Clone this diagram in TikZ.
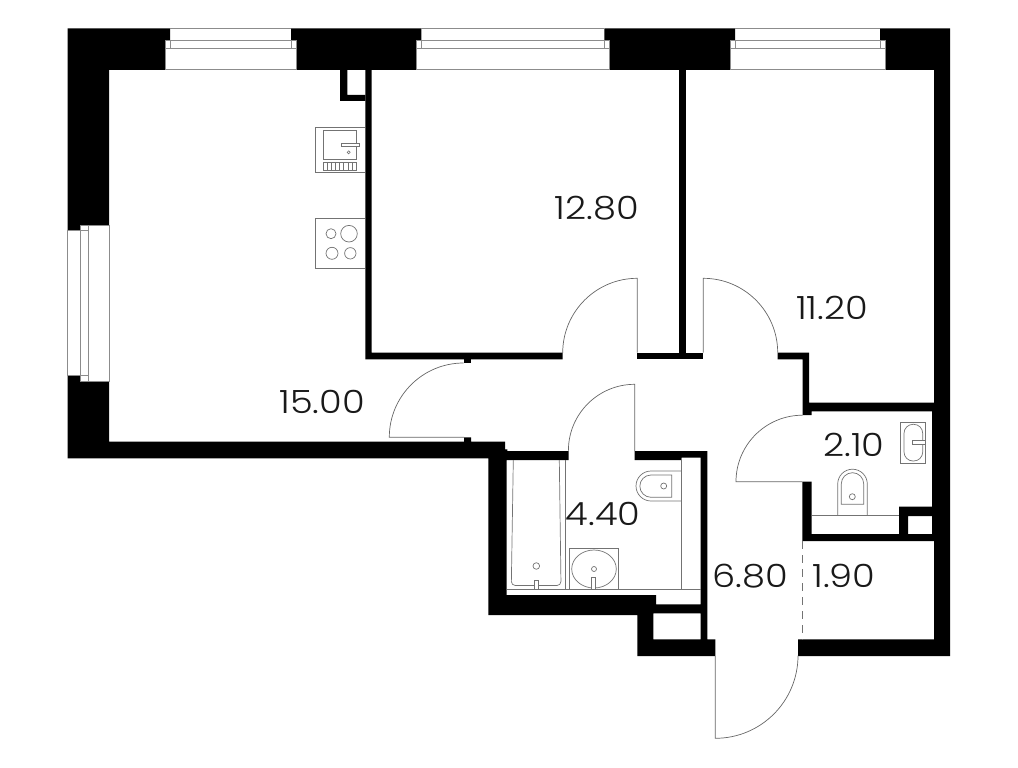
\documentclass[tikz,border=0pt]{standalone}
\usepackage{fontspec}
\setmainfont{Poppins Light}[FakeStretch=1.15]
\tikzset{
    wallfill/.style={fill=black, draw=none},
    fixture/.style={draw=black!55, line width=0.7pt},
    winline/.style={draw=black!45, line width=1pt},
    doorline/.style={draw=black!60, line width=0.7pt},
    arealabel/.style={font=\fontsize{32}{32}\selectfont, text=black!90, inner sep=0pt},
}
\begin{document}
\begin{tikzpicture}[x=1pt, y=-1pt]
    \useasboundingbox (0,0) rectangle (1018,768);

    % outer walls
    \fill[wallfill] (67.5,28.5) -- (170,28.5) -- (170,41) -- (165,41) -- (165,70) -- (109,70) -- (109,225) -- (80.7,225) -- (80.7,230) -- (67.5,230) -- cycle;
    \fill[wallfill] (291,28.5) -- (421.4,28.5) -- (421.4,41) -- (416,41) -- (416,70) -- (296,70) -- (296,41) -- (291,41) -- cycle;
    \fill[wallfill] (604.3,28.5) -- (735,28.5) -- (735,41) -- (730,41) -- (730,70) -- (609.3,70) -- (609.3,41) -- (604.3,41) -- cycle;
    \fill[wallfill] (880,28.5) -- (950,28.5) -- (950,656) -- (798,656) -- (798,639.3) -- (934,639.3) -- (934,70) -- (885,70) -- (885,41) -- (880,41) -- cycle;
    \fill[wallfill] (931.7,402.7) rectangle (934,534);
    \fill[wallfill, even odd rule] (67.5,375.7) -- (80.7,375.7) -- (80.7,381) -- (109,381) -- (109,441.7) -- (464,441.7) -- (464,437.3) -- (471,437.3) -- (471,441.7) -- (505,441.7) -- (505,449.3) -- (507.3,449.3) -- (507.3,451) -- (568.7,451) -- (568.7,460) -- (506.7,460) -- (506.7,595) -- (656,595) -- (656,604.3) -- (700.7,604.3) -- (700.7,457.7) -- (681.7,457.7) -- (681.7,460) -- (634.7,460) -- (634.7,451) -- (707.3,451) -- (707.3,639.3) -- (715.3,639.3) -- (715.3,656) -- (637.3,656) -- (637.3,615) -- (488.3,615) -- (488.3,458.3) -- (67.5,458.3) -- cycle
        (653.3,613.3) rectangle (700.7,639.3);

    % inner walls
    \fill[wallfill] (365.3,70) -- (371.7,70) -- (371.7,352.7) -- (562.7,352.7) -- (562.7,359.3) -- (365.3,359.3) -- cycle;
    \fill[wallfill] (340,70) -- (347.3,70) -- (347.3,95) -- (365.3,95) -- (365.3,101) -- (340,101) -- cycle;
    \fill[wallfill] (464,359) rectangle (471,363.3);
    \fill[wallfill] (637.3,352.7) rectangle (703.3,359.3);
    \fill[wallfill] (679.3,70) rectangle (685.7,352.7);
    \fill[wallfill] (777.7,352.7) -- (809,352.7) -- (809,402.7) -- (934,402.7) -- (934,411.3) -- (811.7,411.3) -- (811.7,415) -- (802.7,415) -- (802.7,359.3) -- (777.7,359.3) -- cycle;
    \fill[wallfill] (802.3,481.7) -- (811.7,481.7) -- (811.7,534) -- (899,534) -- (899,506.7) -- (934,506.7) -- (934,516) -- (908,516) -- (908,534) -- (934,534) -- (934,541) -- (802.3,541) -- cycle;

    % windows
    \foreach \xa/\xb/\xc/\xd in {165/170/291/296, 416/421.4/604.3/609.3, 730/735/880/885} {
        \draw[winline] (\xb,28.5) -- (\xc,28.5);
        \draw[winline] (\xa,41) rectangle (\xd,49);
        \draw[winline] (\xb,41) -- (\xb,49);
        \draw[winline] (\xc,41) -- (\xc,49);
        \draw[winline] (\xa,49) -- (\xa,70) -- (\xd,70) -- (\xd,49);
    }
    \draw[winline] (80.7,230) -- (67.5,230) -- (67.5,375.7) -- (80.7,375.7);
    \draw[winline] (80.7,225) rectangle (88.3,381);
    \draw[winline] (80.7,230) -- (88.3,230);
    \draw[winline] (80.7,375.7) -- (88.3,375.7);
    \draw[winline] (88.3,225) -- (109,225) -- (109,381) -- (88.3,381);

    % doors
    \draw[doorline] (637.3,352.7) -- (637.3,278.3) arc[start angle=-90, end angle=-180, radius=74.6];
    \draw[doorline] (703.3,352.7) -- (703.3,278.3) arc[start angle=-90, end angle=0, radius=74.4];
    \draw[doorline] (464,437.3) -- (389.3,437.3) arc[start angle=180, end angle=270, radius=74.3];
    \draw[doorline] (634.7,451) -- (634.7,384.3) arc[start angle=-90, end angle=-180, radius=66.3];
    \draw[doorline] (802.3,481.7) -- (736,481.7) arc[start angle=180, end angle=270, radius=66.5];
    \draw[doorline] (715.3,656) -- (715.3,738.3) arc[start angle=90, end angle=0, radius=82.7];
    \draw[fixture, dashed, dash pattern=on 8pt off 6pt] (802,541) -- (802,639.3);

    % kitchen
    \draw[fixture] (365,127.7) -- (315.3,127.7) -- (315.3,172.7) -- (365,172.7);
    \draw[fixture] (323,130) rectangle (356.3,159.3);
    \draw[fixture, fill=white] (341,143.3) rectangle (359,146.7);
    \draw[fixture] (348.7,152.3) circle[radius=1.5];
    \draw[fixture] (323,162.3) rectangle (356.3,170.3);
    \foreach \x in {1,...,7} {
        \draw[fixture] (323+\x*4.16,162.3) -- (323+\x*4.16,170.3);
    }
    \draw[fixture] (365,218.7) -- (315.3,218.7) -- (315.3,268.3) -- (365,268.3);
    \foreach \x/\y/\r in {331/233.7/5, 349/233.7/8.3, 332/253.3/6, 350.3/253.3/5.7} {
        \draw[fixture] (\x,\y) circle[radius=\r];
    }

    % bathroom
    \draw[fixture] (506.7,589.3) -- (700.7,589.3);
    \draw[fixture] (565.7,460) -- (565.7,589.3);
    \draw[fixture] (681.7,457.7) -- (681.7,589.3);
    \draw[fixture, rounded corners=4pt] (513.3,460) -- (511.3,585.5) -- (561,585.5) -- (559.3,460);
    \draw[fixture] (536.3,566) circle[radius=3.3];
    \draw[fixture, fill=white] (534.3,589.3) rectangle (538.7,580);
    \draw[fixture] (569.3,589.3) -- (569.3,548.3) -- (618.3,548.3) -- (618.3,589.3);
    \draw[fixture] (594,569) ellipse[x radius=22.3, y radius=19];
    \draw[fixture] (594,569) circle[radius=2.5];
    \draw[fixture, fill=white] (591.7,589.3) rectangle (595.7,577.3);
    \draw[fixture] (681.7,471) -- (651,471) arc[start angle=-90, end angle=-270, radius=15] -- (681.7,501);
    \draw[fixture] (671.7,475) -- (651,475) arc[start angle=-90, end angle=-270, radius=11.15] -- (671.7,497.3) -- cycle;
    \draw[fixture] (663.7,486) circle[radius=3];

    % toilet room
    \draw[fixture] (811.7,515) -- (899,515);
    \draw[fixture] (900.7,422.3) rectangle (925.7,463.3);
    \draw[fixture, rounded corners=9pt] (904,424.3) rectangle (922.7,461);
    \draw[fixture, fill=white] (912.7,440.7) rectangle (925,444.3);
    \draw[fixture] (837.7,515) -- (837.7,484) arc[start angle=180, end angle=360, radius=14.8] -- (867.3,515);
    \draw[fixture] (841.3,504.3) -- (841.3,483.9) arc[start angle=180, end angle=360, radius=11.2] -- (863.7,504.3) -- cycle;
    \draw[fixture] (852.3,496.7) circle[radius=3];

    % areas
    \node[arealabel] (living) at (322,402) {15.00};
    \node[arealabel] (bedroomA) at (597,208) {12.80};
    \node[arealabel] (bedroomB) at (832,308) {11.20};
    \node[arealabel] (toilet) at (854,445) {2.10};
    \node[arealabel] (bath) at (603,514) {4.40};
    \node[arealabel] (hall) at (750,576) {6.80};
    \node[arealabel] (closet) at (844,576) {1.90};
\end{tikzpicture}
\end{document}
